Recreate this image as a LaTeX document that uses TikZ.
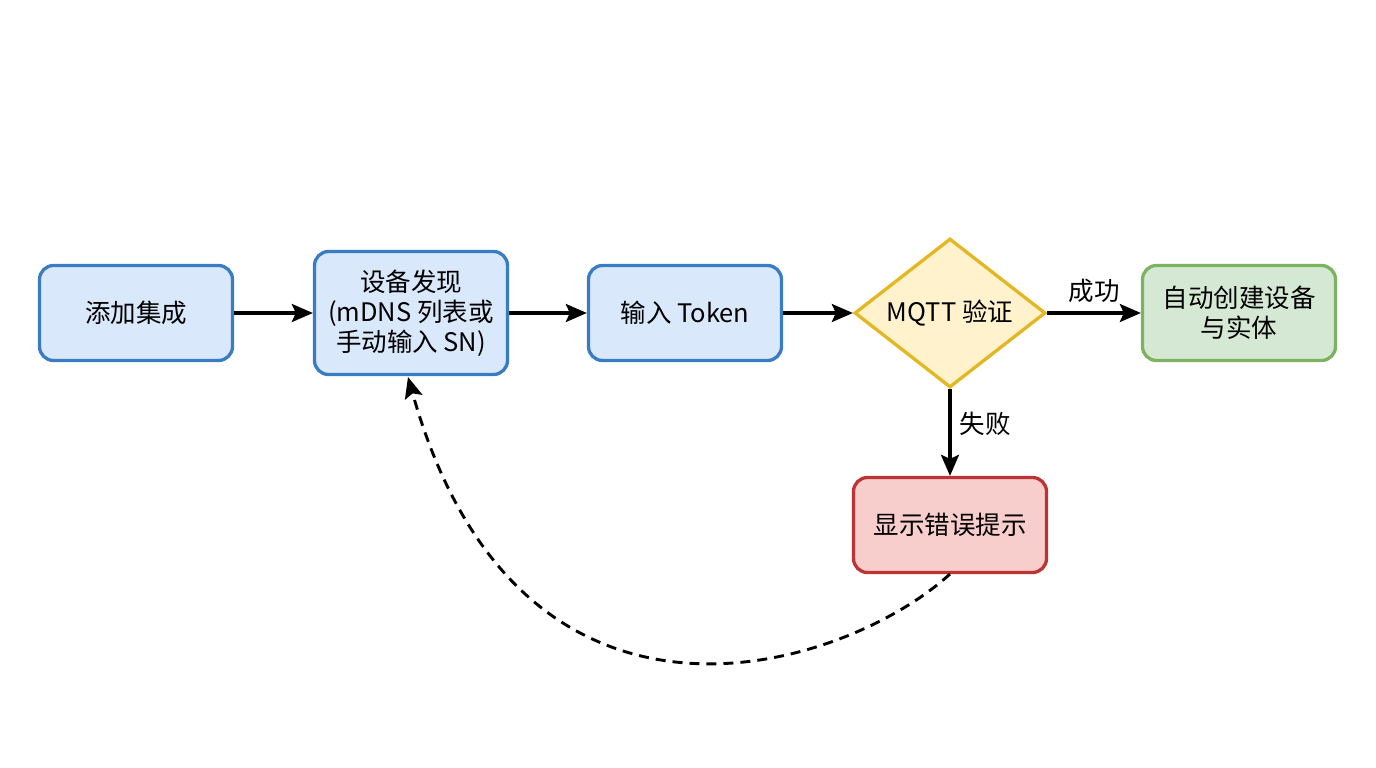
\documentclass[tikz,border=0pt]{standalone}
\usepackage{fontspec}
\setmainfont{Noto Sans CJK SC}
\usetikzlibrary{shapes.geometric,arrows.meta}
\definecolor{bfill}{HTML}{DAE8FC}
\definecolor{bline}{HTML}{3A7CC2}
\definecolor{yfill}{HTML}{FFF2CC}
\definecolor{yline}{HTML}{E3B722}
\definecolor{gfill}{HTML}{D5E8D4}
\definecolor{gline}{HTML}{7DB35F}
\definecolor{rfill}{HTML}{F8CECC}
\definecolor{rline}{HTML}{BE3434}
\tikzset{
  box/.style={draw, rounded corners=14pt, line width=3.3pt, minimum width=193pt,
    minimum height=95pt, align=center, inner sep=0pt},
  bluebox/.style={box, fill=bfill, draw=bline},
  greenbox/.style={box, fill=gfill, draw=gline},
  redbox/.style={box, fill=rfill, draw=rline},
  decision/.style={diamond, draw=yline, fill=yfill, line width=3.3pt, aspect=1.28,
    minimum width=191pt, minimum height=149pt, inner sep=0pt},
  flow/.style={line width=3.2pt, -{Stealth[length=21pt,width=18pt,inset=4pt]}},
  lbl/.style={inner sep=0pt}
}
\begin{document}
\begin{tikzpicture}[x=1pt,y=-1pt,font=\fontsize{25.5}{30}\selectfont]
\useasboundingbox (0,0) rectangle (1376,768);
\node[bluebox] (add) at (136,313) {添加集成};
\node[bluebox, minimum height=123pt] (disc) at (411,313) {设备发现\\(mDNS 列表或\\手动输入 SN)};
\node[bluebox] (token) at (685,313) {输入 Token};
\node[decision] (mqtt) at (950,313) {MQTT 验证};
\node[greenbox] (create) at (1239,313) {自动创建设备\\与实体};
\node[redbox] (err) at (950,525) {显示错误提示};
\draw[flow] (add) -- (disc);
\draw[flow] (disc) -- (token);
\draw[flow] (token) -- (mqtt);
\draw[flow] (mqtt) -- node[lbl, above=9pt] (ok) {成功} (create);
\draw[flow] (mqtt) -- node[lbl, right=8pt, pos=0.4] (fail) {失败} (err);
\coordinate (errb) at (950,574);
\coordinate (discb) at (408,377);
\draw[flow, dash pattern=on 10pt off 7pt, line width=2.9pt]
  (errb) .. controls (845,670) and (520,775) .. (discb);
\end{tikzpicture}
\end{document}
